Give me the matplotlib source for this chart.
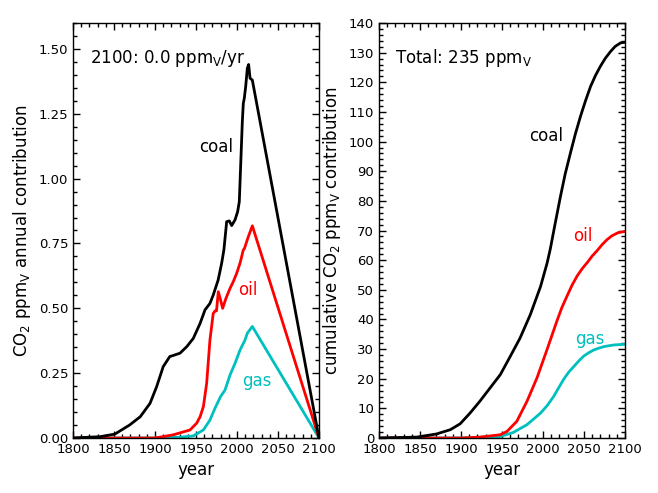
import numpy as np
import matplotlib
matplotlib.use("Agg")
import matplotlib.pyplot as plt
from matplotlib.ticker import MultipleLocator

# ---- annual contribution (ppmV / yr) ----
coal_years = [1800, 1833, 1851, 1869, 1882, 1894, 1902, 1910, 1918, 1922, 1930.5,
              1938.7, 1946.7, 1955, 1961, 1967, 1971, 1977, 1981.3, 1984, 1987.4,
              1990.6, 1993.5, 1997.6, 2000.8, 2002.8, 2004.5, 2006.5, 2007.7, 2008.9,
              2010.6, 2012.6, 2014.2, 2015.9, 2018.7, 2100]
coal_annual = [0.0, 0.005, 0.015, 0.05, 0.082, 0.134, 0.198, 0.275, 0.314, 0.318, 0.327,
               0.352, 0.384, 0.442, 0.494, 0.519, 0.551, 0.609, 0.674, 0.725, 0.834,
               0.837, 0.819, 0.841, 0.873, 0.911, 1.053, 1.22, 1.29, 1.31,
               1.355, 1.426, 1.44, 1.387, 1.38, 0.0]

oil_years = [1800, 1900, 1922, 1942.7, 1950.8, 1955, 1959, 1963, 1967, 1971, 1973.2,
             1975, 1977.2, 1980, 1982.5, 1986.6, 1991.5, 1995.5, 1999.6, 2003.7, 2007.7,
             2009, 2013.8, 2018.7, 2100]
oil_annual = [0.0, 0.0, 0.012, 0.031, 0.057, 0.082, 0.121, 0.211, 0.378, 0.48, 0.49,
              0.49, 0.564, 0.532, 0.50, 0.539, 0.577, 0.603, 0.635, 0.674, 0.725,
              0.73, 0.776, 0.818, 0.0]

gas_years = [1800, 1900, 1930, 1946.7, 1959, 1967, 1973.2, 1980, 1985.4, 1991.5, 1997.6,
             2003.7, 2009.8, 2012.6, 2018.7, 2100]
gas_annual = [0.0, 0.0, 0.003, 0.008, 0.031, 0.069, 0.115, 0.16, 0.185, 0.243, 0.288,
              0.339, 0.378, 0.404, 0.43, 0.0]

# ---- cumulative contribution (ppmV) ----
coal_cum_years = [1800, 1846, 1870, 1887, 1899, 1911, 1923, 1935.5, 1948, 1960, 1972, 1984.5,
                  1997, 2005, 2009, 2015, 2021.3, 2027, 2033.5, 2039.5, 2045.7, 2052, 2058,
                  2064, 2070, 2076, 2082.4, 2088, 2094.7, 2100]
coal_cum = [0.0, 0.3, 1.35, 2.8, 4.8, 8.4, 12.4, 16.9, 21.4, 27.5, 33.7, 41.6,
            51.1, 59.0, 63.9, 72.6, 81.5, 89.0, 96.2, 102.6, 108.5, 113.9, 118.6,
            122.3, 125.4, 128.1, 130.4, 132.1, 133.3, 133.5]

oil_cum_years = [1800, 1900, 1923, 1948, 1956, 1968, 1980.5, 1992.7, 2005, 2017, 2023,
                 2029.5, 2035.5, 2041.7, 2048, 2054, 2060, 2066, 2072, 2078, 2084, 2091, 2100]
oil_cum = [0.0, 0.0, 0.3, 1.1, 2.2, 5.6, 12.4, 20.3, 29.9, 39.5, 44.0,
           48.0, 51.6, 54.7, 57.2, 59.2, 61.4, 63.2, 65.2, 66.9, 68.2, 69.2, 69.7]

gas_cum_years = [1800, 1900, 1948, 1964, 1980.5, 1997, 2005, 2013, 2019, 2025, 2031,
                 2037.5, 2044, 2050, 2056, 2062, 2068, 2074, 2080, 2086.5, 2093, 2100]
gas_cum = [0.0, 0.0, 0.5, 1.9, 4.5, 8.4, 10.9, 14.0, 16.9, 19.7, 22.1,
           24.1, 26.1, 27.7, 28.8, 29.7, 30.3, 30.8, 31.1, 31.4, 31.5, 31.6]

CYAN = "#00bfbf"
RED = "#ff0000"
plt.rcParams["font.family"] = "DejaVu Sans"

fig = plt.figure(figsize=(6.58, 4.93), dpi=100)
ax1 = fig.add_axes([73/658, 55/493, 246/658, 415/493])
ax2 = fig.add_axes([379/658, 55/493, 246/658, 415/493])

lw = 2.0
ax1.plot(gas_years, gas_annual, color=CYAN, lw=lw)
ax1.plot(oil_years, oil_annual, color=RED, lw=lw)
ax1.plot(coal_years, coal_annual, color="black", lw=lw)

ax2.plot(gas_cum_years, gas_cum, color=CYAN, lw=lw)
ax2.plot(oil_cum_years, oil_cum, color=RED, lw=lw)
ax2.plot(coal_cum_years, coal_cum, color="black", lw=lw)

for ax in (ax1, ax2):
    ax.set_xlim(1800, 2100)
    ax.xaxis.set_major_locator(MultipleLocator(50))
    ax.xaxis.set_minor_locator(MultipleLocator(10))
    ax.tick_params(which="both", direction="in", top=True, right=True, labelsize=9.5)
    ax.tick_params(which="major", length=5, width=1)
    ax.tick_params(which="minor", length=3, width=1)
    ax.set_xlabel("year", fontsize=12, labelpad=4)
    for s in ax.spines.values():
        s.set_linewidth(1)

ax1.set_ylim(0, 1.6)
ax1.yaxis.set_minor_locator(MultipleLocator(0.05))
ax1.set_yticks([0, 0.25, 0.5, 0.75, 1.0, 1.25, 1.5])
ax1.set_yticklabels(["0.00", "0.25", "0.50", "0.75", "1.00", "1.25", "1.50"])
ax1.set_ylabel(r"CO$_2$ ppm$_\mathrm{V}$ annual contribution", fontsize=12)

ax2.set_ylim(0, 140)
ax2.yaxis.set_major_locator(MultipleLocator(10))
ax2.yaxis.set_minor_locator(MultipleLocator(2))
ax2.set_ylabel(r"cumulative CO$_2$ ppm$_\mathrm{V}$ contribution", fontsize=12)

ax1.text(1821, 1.465, r"2100: 0.0 ppm$_\mathrm{V}$/yr", fontsize=12, va="center", ha="left")
ax1.text(1974, 1.12, "coal", fontsize=12, ha="center", va="center", color="black")
ax1.text(2013, 0.57, "oil", fontsize=12, ha="center", va="center", color=RED)
ax1.text(2024, 0.218, "gas", fontsize=12, ha="center", va="center", color=CYAN)

ax2.text(1820, 128.3, r"Total: 235 ppm$_\mathrm{V}$", fontsize=12, va="center", ha="left")
ax2.text(2004, 101.8, "coal", fontsize=12, ha="center", va="center", color="black")
ax2.text(2048, 68, "oil", fontsize=12, ha="center", va="center", color=RED)
ax2.text(2057, 33.5, "gas", fontsize=12, ha="center", va="center", color=CYAN)

fig.savefig("out.png", dpi=100)
